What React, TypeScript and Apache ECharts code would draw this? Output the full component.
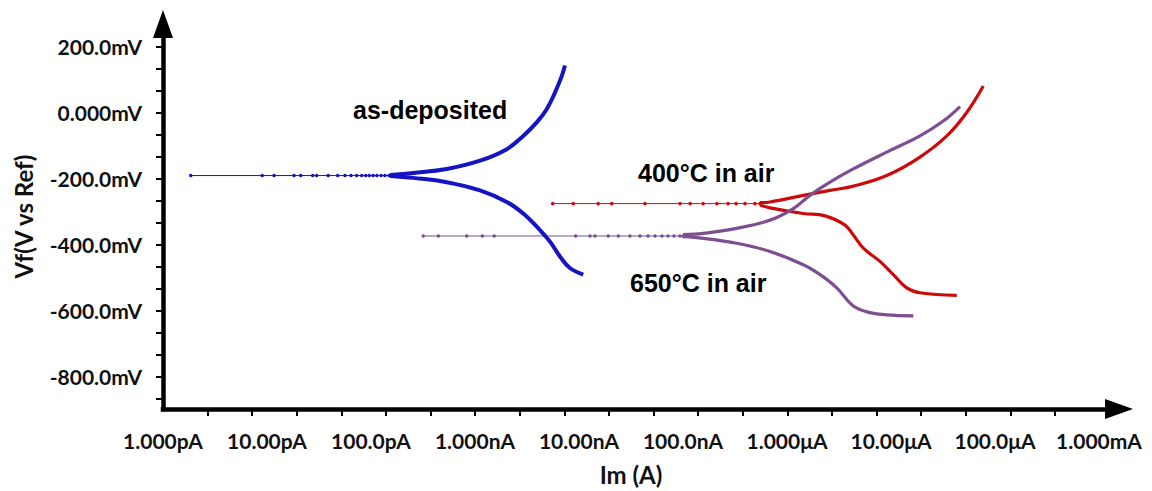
import React, { useEffect, useRef } from "react";
import * as echarts from "echarts";

// ---- Axis ticks / labels ----
const X_TICK_VALUES = [1e-12, 1e-11, 1e-10, 1e-9, 1e-8, 1e-7, 1e-6, 1e-5, 1e-4, 1e-3];
const X_TICK_LABELS = ["1.000pA", "10.00pA", "100.0pA", "1.000nA", "10.00nA", "100.0nA", "1.000μA", "10.00μA", "100.0μA", "1.000mA"];
const Y_TICK_VALUES = [-800, -600, -400, -200, 0, 200];
const Y_TICK_LABELS = ["-800.0mV", "-600.0mV", "-400.0mV", "-200.0mV", "0.000mV", "200.0mV"];
const Y_MINOR_TICKS = [-866.67, -800, -733.33, -666.67, -600, -533.33, -466.67, -400, -333.33, -266.67, -200, -133.33, -66.67, 0, 66.67, 133.33, 200];

// ---- Data: [current (A), potential (mV)] ----
const BLUE_FLAT: [number, number][] = [
  [1.85e-12, -190], [9.0e-12, -190], [1.17e-11, -190], [1.82e-11, -190], [2.11e-11, -190],
  [2.75e-11, -190], [3.0e-11, -190], [3.88e-11, -190], [4.78e-11, -190], [5.62e-11, -190],
  [6.42e-11, -190], [7.28e-11, -190], [8.13e-11, -190], [8.89e-11, -190], [9.63e-11, -190],
  [1.05e-10, -190], [1.14e-10, -190], [1.25e-10, -190], [1.36e-10, -190], [1.49e-10, -190],
  [1.63e-10, -189],
];
const BLUE_ANODIC: [number, number][] = [
  [1.52e-10, -188], [2.55e-10, -182], [5.34e-10, -170], [1.117e-9, -145], [2.02e-9, -110],
  [2.91e-9, -70], [3.92e-9, -29], [4.89e-9, 11], [5.87e-9, 61], [6.82e-9, 111], [7.33e-9, 143],
];
const BLUE_CATHODIC: [number, number][] = [
  [1.52e-10, -191], [2.55e-10, -197], [5.34e-10, -210], [1.117e-9, -235], [2.02e-9, -270],
  [2.91e-9, -305], [4.21e-9, -355], [5.26e-9, -390], [6.56e-9, -435], [8.18e-9, -470], [1.099e-8, -490],
];

const RED_FLAT: [number, number][] = [
  [5.58e-9, -275], [8.81e-9, -275], [1.53e-8, -275], [2.06e-8, -275], [4.31e-8, -275],
  [9.36e-8, -275], [1.17e-7, -275], [1.56e-7, -275], [2.12e-7, -275], [2.71e-7, -275],
  [3.24e-7, -275], [3.95e-7, -275], [4.92e-7, -275], [5.5e-7, -275],
];
const RED_ANODIC: [number, number][] = [
  [5.5e-7, -272], [6.87e-7, -270], [1.435e-6, -250], [2.59e-6, -235], [4.34e-6, -222],
  [9.1e-6, -190], [1.9e-5, -134], [3.44e-5, -70], [5.35e-5, 1], [7.72e-5, 81],
];
const RED_CATHODIC: [number, number][] = [
  [5.5e-7, -279], [6.87e-7, -288], [1.435e-6, -305], [2.32e-6, -312], [3.61e-6, -340],
  [4.34e-6, -370], [5.42e-6, -410], [7.83e-6, -450], [1.052e-5, -490], [1.416e-5, -530],
  [1.9e-5, -545], [4.29e-5, -553],
];

const PURPLE_FLAT: [number, number][] = [
  [3.18e-10, -373], [4.44e-10, -373], [8.32e-10, -373], [1.175e-9, -373], [1.53e-9, -373],
  [9.29e-9, -373], [1.276e-8, -373], [1.426e-8, -373], [1.91e-8, -373], [2.39e-8, -373],
  [3.09e-8, -373], [3.86e-8, -373], [4.61e-8, -373], [5.38e-8, -373], [6.28e-8, -373],
  [7.18e-8, -373], [8.19e-8, -373], [9.36e-8, -373], [1.0e-7, -373],
];
const PURPLE_ANODIC: [number, number][] = [
  [1.0e-7, -369], [1.57e-7, -365], [3.28e-7, -350], [6.87e-7, -325], [1.15e-6, -290],
  [1.66e-6, -250], [2.59e-6, -210], [4.34e-6, -170], [9.1e-6, -119], [1.9e-5, -70],
  [3.18e-5, -25], [4.61e-5, 19],
];
const PURPLE_CATHODIC: [number, number][] = [
  [1.0e-7, -375], [1.57e-7, -380], [3.28e-7, -395], [6.87e-7, -420], [1.435e-6, -460],
  [2.08e-6, -490], [3.01e-6, -530], [4.34e-6, -585], [6.28e-6, -605], [9.1e-6, -612],
  [1.64e-5, -615],
];

const SAMPLE_LABELS = ["as-deposited", "400°C in air", "650°C in air"];

// ---- Layout / style ----
const W = 1152;
const H = 491;
const GRID_LEFT = 163;
const GRID_RIGHT_EDGE = 1119;
const GRID_TOP = 24;
const GRID_BOTTOM_EDGE = 412;
const PX_PER_DECADE = 104;
const MINOR_TICK_PX = 44.6;
const X_MIN = 1e-12;
const X_MAX = Math.pow(10, -12 + (GRID_RIGHT_EDGE - GRID_LEFT) / PX_PER_DECADE);
const X_TICK_STEPS = Array.from({ length: 20 }, (_, i) => i + 1);

const BLUE = "#1414c4";
const RED = "#cc0a0a";
const PURPLE = "#7e4e92";
const TICK_FONT = "Lato";
const NOTE_FONT = "'Liberation Sans', Arial, sans-serif";

function xLabel(v: number): string {
  let best = 0;
  let bd = Infinity;
  X_TICK_VALUES.forEach((t, i) => {
    const d = Math.abs(Math.log10(t) - Math.log10(v));
    if (d < bd) { bd = d; best = i; }
  });
  return X_TICK_LABELS[best];
}
function yLabel(v: number): string {
  let best = 0;
  let bd = Infinity;
  Y_TICK_VALUES.forEach((t, i) => {
    const d = Math.abs(t - v);
    if (d < bd) { bd = d; best = i; }
  });
  return Y_TICK_LABELS[best];
}

function flat(name: string, data: [number, number][], color: string) {
  return {
    name, type: "line", data, showSymbol: true, symbol: "circle", symbolSize: 3.5,
    itemStyle: { color }, lineStyle: { color, width: 1 }, z: 3,
  };
}
function branch(name: string, data: [number, number][], color: string, width: number) {
  return {
    name, type: "line", data, showSymbol: false, smooth: 0.4,
    lineStyle: { color, width }, itemStyle: { color }, z: 4,
  };
}

export default function App() {
  const ref = useRef<HTMLDivElement>(null);
  useEffect(() => {
    if (!ref.current) return;
    const chart = echarts.init(ref.current, null, { renderer: "svg" });
    const option: any = {
      animation: false,
      backgroundColor: "#ffffff",
      grid: {
        left: GRID_LEFT, top: GRID_TOP,
        width: GRID_RIGHT_EDGE - GRID_LEFT, height: GRID_BOTTOM_EDGE - GRID_TOP,
        containLabel: false,
      },
      xAxis: [
        {
          type: "log", logBase: 10, min: X_MIN, max: X_MAX, position: "bottom",
          name: "Im (A)", nameLocation: "middle", nameGap: 53,
          nameTextStyle: { fontFamily: TICK_FONT, fontWeight: "bold", fontSize: 24, color: "#111", padding: [0, 20, 0, 0] },
          axisLine: { show: true, onZero: false, symbol: ["none", "triangle"], symbolSize: [20, 28], lineStyle: { color: "#000", width: 4.5, cap: "square" } },
          axisTick: { show: false },
          minorTick: { show: false },
          splitLine: { show: false },
          axisLabel: {
            show: true, customValues: X_TICK_VALUES, formatter: (v: number) => xLabel(v),
            fontFamily: TICK_FONT, fontWeight: "bold", fontSize: 21, color: "#111", margin: 21,
          },
        },
        {
          type: "value", min: 0, max: (GRID_RIGHT_EDGE - GRID_LEFT) / MINOR_TICK_PX, position: "bottom",
          axisLine: { show: false, onZero: false },
          axisTick: { show: true, customValues: X_TICK_STEPS, length: 7, lineStyle: { color: "#000", width: 2 } },
          axisLabel: { show: false },
          splitLine: { show: false },
        },
      ],
      yAxis: {
        type: "value", min: -897, max: 269,
        name: "Vf(V vs Ref)", nameLocation: "middle", nameRotate: 90, nameGap: 128,
        nameTextStyle: { fontFamily: TICK_FONT, fontWeight: "bold", fontSize: 24, color: "#111" },
        axisLine: { show: true, onZero: false, symbol: ["none", "triangle"], symbolSize: [20, 28], lineStyle: { color: "#000", width: 4.5, cap: "square" } },
        axisTick: { show: true, customValues: Y_MINOR_TICKS, length: 7, lineStyle: { color: "#000", width: 2 } },
        splitLine: { show: false },
        axisLabel: {
          show: true, customValues: Y_TICK_VALUES, formatter: (v: number) => yLabel(v),
          fontFamily: TICK_FONT, fontWeight: "bold", fontSize: 21, color: "#111", margin: 21,
        },
      },
      series: [
        flat("as-deposited flat", BLUE_FLAT, BLUE),
        branch("as-deposited anodic", BLUE_ANODIC, BLUE, 4),
        branch("as-deposited cathodic", BLUE_CATHODIC, BLUE, 4),
        flat("400 flat", RED_FLAT, RED),
        branch("400 anodic", RED_ANODIC, RED, 3.2),
        branch("400 cathodic", RED_CATHODIC, RED, 3.2),
        flat("650 flat", PURPLE_FLAT, PURPLE),
        branch("650 anodic", PURPLE_ANODIC, PURPLE, 3.2),
        branch("650 cathodic", PURPLE_CATHODIC, PURPLE, 3.2),
      ],
      graphic: [
        { type: "text", x: 353, y: 110, style: { text: SAMPLE_LABELS[0], font: `bold 25px ${NOTE_FONT}`, fill: "#000", align: "left", verticalAlign: "middle" } },
        { type: "text", x: 638, y: 173, style: { text: SAMPLE_LABELS[1], font: `bold 25px ${NOTE_FONT}`, fill: "#000", align: "left", verticalAlign: "middle" } },
        { type: "text", x: 630, y: 283, style: { text: SAMPLE_LABELS[2], font: `bold 25px ${NOTE_FONT}`, fill: "#000", align: "left", verticalAlign: "middle" } },
      ],
    };
    chart.setOption(option);
    return () => chart.dispose();
  }, []);
  return (
    <div
      ref={ref}
      style={{ position: "absolute", left: 0, top: 0, width: W, height: H, background: "#fff" }}
    />
  );
}
